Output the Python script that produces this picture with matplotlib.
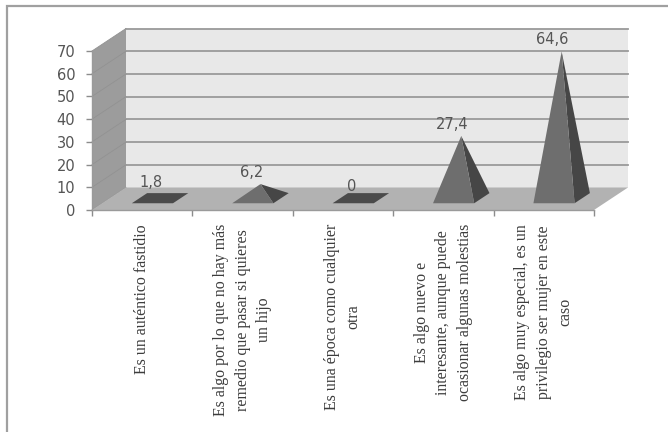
import matplotlib
matplotlib.use("Agg")
import matplotlib.pyplot as plt
from matplotlib.patches import Polygon, Rectangle

W, H = 668, 432

categories = [
    "Es un auténtico fastidio",
    "Es algo por lo que no hay más\nremedio que pasar si quieres\nun hijo",
    "Es una época como cualquier\notra",
    "Es algo nuevo e\ninteresante, aunque puede\nocasionar algunas molestias",
    "Es algo muy especial, es un\nprivilegio ser mujer en este\ncaso",
]
values = [1.8, 6.2, 0, 27.4, 64.6]
value_labels = ["1,8", "6,2", "0", "27,4", "64,6"]
y_ticks = [0, 10, 20, 30, 40, 50, 60, 70]

fig = plt.figure(figsize=(W / 100, H / 100), dpi=100, facecolor="white")

# Front plane of the oblique 3D box
ax = fig.add_axes([92 / W, (H - 210) / H, 502 / W, 159 / H])
ax.set_xlim(0, 5)
ax.set_ylim(0, 70)
ax.patch.set_alpha(0)

# Depth axis expressed in data units: one full depth step of the box
DX = 34 / (502 / 5)
DY = 22.5 / (159 / 70)


def proj(c, v, d):
    """Oblique projection of (category, value, depth 0..1) onto the front plane."""
    return (c + d * DX, v + d * DY)


def face(points, **kw):
    ax.add_patch(Polygon([proj(*p) for p in points], closed=True, clip_on=False, **kw))


# Back wall, side wall, floor
face([(0, 0, 1), (5, 0, 1), (5, 70, 1), (0, 70, 1)], facecolor="#e8e8e8", edgecolor="none", zorder=1)
face([(0, 0, 0), (0, 0, 1), (0, 70, 1), (0, 70, 0)], facecolor="#9c9c9c", edgecolor="none", zorder=2)

GRID = "#9a9a9a"
for t in y_ticks:
    x0, y0 = proj(0, t, 0)
    x1, y1 = proj(0, t, 1)
    x2, y2 = proj(5, t, 1)
    if t > 0:
        ax.plot([x1, x2], [y1, y2], color=GRID, lw=1.3, clip_on=False, zorder=1.5)
    ax.plot([x0, x1], [y0, y1], color="#929292", lw=0.6, clip_on=False, zorder=2.5)

face([(0, 0, 0), (5, 0, 0), (5, 0, 1), (0, 0, 1)], facecolor="#b2b2b2", edgecolor="none", zorder=3)

# Pyramids: base spans part of the category width and floor depth
HALF = 0.205
D0, D1 = 0.30, 0.75
LEFT_C, RIGHT_C, FLAT_C = "#6e6e6e", "#464646", "#4a4a4a"
for i, v in enumerate(values):
    c = i + 0.5
    dm = (D0 + D1) / 2
    apex = (c, v, dm)
    fl, fr = (c - HALF, 0, D0), (c + HALF, 0, D0)
    bl, br = (c - HALF, 0, D1), (c + HALF, 0, D1)
    if v < 3:
        # Very low pyramids read as a flat dark base
        face([fl, fr, br, bl], facecolor=FLAT_C, edgecolor="none", zorder=4)
    else:
        face([fr, br, apex], facecolor=RIGHT_C, edgecolor="none", zorder=4.5)
        face([fl, fr, apex], facecolor=LEFT_C, edgecolor="none", zorder=5)
    ax.annotate(value_labels[i], proj(*apex), xytext=(-6.5, 3.2), textcoords="offset points",
                ha="center", va="bottom", fontsize=10.5, color="#555555",
                family="DejaVu Sans", zorder=6, annotation_clip=False)

# Axes lines, ticks and labels
for s in ("top", "right"):
    ax.spines[s].set_visible(False)
for s in ("left", "bottom"):
    ax.spines[s].set_color("#9a9a9a")
    ax.spines[s].set_linewidth(1.0)
    ax.spines[s].set_zorder(3.5)

ax.set_yticks(y_ticks)
ax.set_xticks(range(6))
ax.set_xticklabels([])
ax.tick_params(axis="both", which="major", color="#8c8c8c", length=4, width=1)
ax.tick_params(axis="y", labelsize=10.5, labelcolor="#555555", pad=8, labelfontfamily="DejaVu Sans")
ax.set_xticks([i + 0.5 for i in range(5)], minor=True)
ax.set_xticklabels(categories, minor=True, rotation=90, ha="center", va="top", ma="center",
                   family="Liberation Serif", fontsize=11.4, color="#3c3c3c", linespacing=1.45)
ax.tick_params(axis="x", which="minor", length=0, pad=10)

# Outer chart frame (top and left edges run inside the page margin)
fig.add_artist(Rectangle((7 / W, -10 / H), 700 / W, (H - 6 + 10) / H, transform=fig.transFigure,
                         facecolor="none", edgecolor="#a0a0a0", lw=1.6))

fig.savefig("out.png", dpi=100, facecolor="white")
